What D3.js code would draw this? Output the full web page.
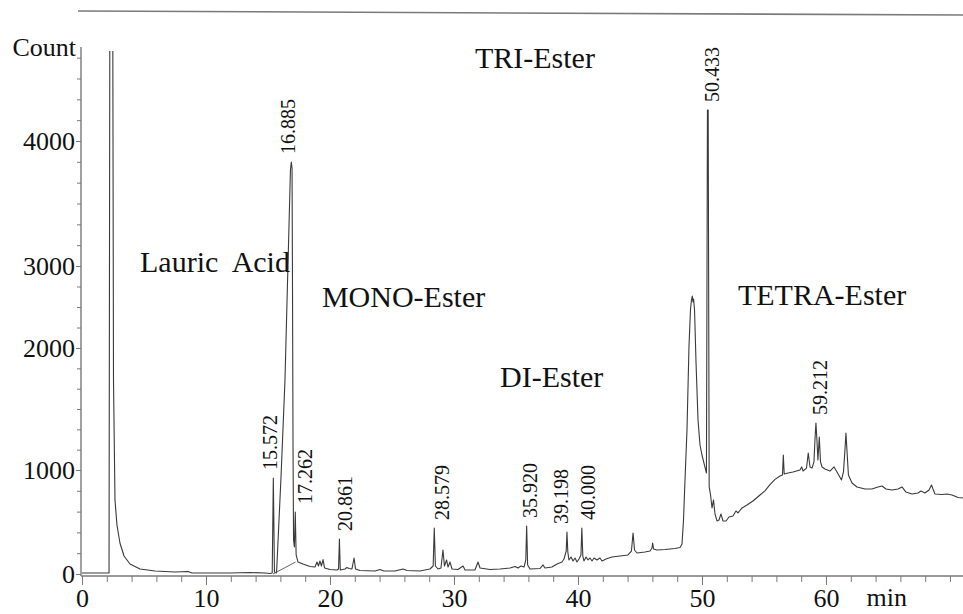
<!DOCTYPE html>
<html><head><meta charset="utf-8">
<script src="https://cdn.jsdelivr.net/npm/d3@7"></script>
<style>
body{margin:0;background:#fff}
svg{display:block}
text{font-family:"Liberation Serif","Times New Roman",serif;fill:#111}
</style>
</head><body>
<svg id="chart" width="963" height="614"></svg>
<script>
// ---- data ----
const times = [0.00,1.45,2.18,2.26,2.46,2.54,2.66,2.82,3.06,3.39,3.87,4.68,5.89,7.50,8.55,8.87,11.94,13.55,14.76,
15.16,15.34,15.43,15.52,15.69,16.05,16.37,16.81,16.88,16.94,16.98,17.02,17.06,17.13,17.20,17.27,17.42,17.82,18.39,18.79,
18.95,19.07,19.19,19.31,19.44,19.56,20.00,20.56,20.69,20.76,20.83,21.21,21.37,21.53,21.77,21.94,22.06,22.42,23.63,24.03,
24.35,25.24,25.89,26.21,27.26,28.06,28.32,28.41,28.50,28.71,28.95,29.11,29.23,29.40,29.52,29.68,29.84,30.32,30.73,30.89,
31.69,31.94,32.10,32.90,33.71,34.52,34.92,35.16,35.40,35.65,35.79,35.86,35.94,36.13,36.94,37.18,37.34,37.90,38.31,38.71,
38.87,39.05,39.11,39.18,39.27,39.44,39.60,39.76,39.92,40.08,40.24,40.31,40.39,40.48,40.65,40.81,40.97,41.13,41.29,41.53,
41.77,41.94,42.26,42.74,43.39,44.03,44.31,44.44,44.56,44.76,45.40,45.81,45.97,46.02,46.10,46.37,47.02,47.82,48.23,48.39,
48.51,48.63,48.79,48.95,49.07,49.15,49.22,49.27,49.32,49.40,49.52,49.68,49.84,50.00,50.16,50.36,50.44,50.50,50.58,50.69,
50.81,50.93,51.05,51.21,51.37,51.53,51.69,51.94,52.18,52.50,52.74,52.90,53.23,53.63,54.11,54.68,55.08,55.48,55.89,56.29,
56.49,56.56,56.63,56.94,57.34,57.90,58.04,58.15,58.43,58.57,58.71,58.87,59.03,59.11,59.19,59.27,59.35,59.46,59.56,59.68,
59.92,60.32,60.65,60.89,61.25,61.41,61.53,61.61,61.69,61.81,62.10,62.50,63.15,63.71,64.19,64.52,64.84,65.32,65.81,66.13,
66.45,66.94,67.42,67.66,67.98,68.31,68.51,68.63,68.79,69.35,69.76,70.16,70.65,71.05];
const counts = [10,10,10,6000,6000,1738,712,471,298,173,96,48,29,19,24,10,10,14,10,
5,10,923,19,10,933,1738,3768,3832,3784,2585,1164,327,260,596,183,115,96,72,67,
115,77,125,77,139,58,43,38,48,337,38,48,62,53,48,154,48,34,29,43,
29,29,48,34,29,48,77,442,77,48,58,231,77,135,67,115,48,43,77,38,
38,115,58,43,48,58,72,58,77,67,135,462,87,48,53,87,58,67,96,115,
144,221,404,212,135,163,125,154,115,144,183,442,173,125,163,135,154,125,154,135,
154,125,144,163,173,183,221,394,231,202,212,221,250,298,240,231,236,245,255,288,
519,904,1328,2012,2463,2585,2634,2561,2598,2463,1877,1410,1205,1123,1057,971,4248,4248,837,760,
635,712,577,510,519,577,510,510,548,558,606,587,635,663,702,760,800,860,910,942,
952,1123,962,971,981,1000,1025,990,1016,1139,1025,1016,1066,1246,1385,1246,1082,1270,1066,1025,
1008,990,1025,981,904,981,1164,1303,1164,952,875,837,817,817,837,846,817,808,817,837,
788,769,779,798,779,808,856,817,769,764,769,760,736,731];

// integrator baseline under the lauric acid peak
const baselineTimes = [15.40, 17.22];
const baselineCounts = [0, 115];

// labelled peaks: retention time text and apex height
const peakLabels = ["15.572","16.885","17.262","20.861","28.579","35.920","39.198","40.000","50.433","59.212"];
const peakApex   = [923, 3832, 596, 337, 442, 462, 404, 442, 4248, 1385];

// region names
const regionNames  = ["TRI-Ester","Lauric\u00a0 Acid","MONO-Ester","DI-Ester","TETRA-Ester"];
const regionTimes  = [31.69, 4.68, 19.35, 33.71, 52.90];
const regionCounts = [4584, 2927, 2500, 1680, 2524];

const xTicks = [0,10,20,30,40,50,60];
const yTicks = [0,1000,2000,3000,4000];
const yTickLabels = ["0","1000","2000","3000","4000"];
// minor tick subdivisions per 1000-count band (as drawn on the original axis)
const ySubdiv = [5,6,4,6];

// ---- layout config ----
const peakLabelNudge = [-5, -3, 8.5, 4.3, 5.6, 2.6, -7, 10, 4.6, 3.8]; // px, horizontal label shift

// ---- scales ----
const svg = d3.select("#chart");
const x = d3.scaleLinear().domain([0, 71.05]).range([82, 963]);
const y = d3.scaleLinear().domain(yTicks).range([574, 470, 348, 266, 141]);
const yTop = 4720, yAxisTop = 4752;

svg.append("defs").append("clipPath").attr("id","plot")
  .append("rect").attr("x", x(0)).attr("y", y(yTop))
  .attr("width", x(71.05) - x(0)).attr("height", y(0) + 20 - y(yTop));

const axisCol = "#7a7a7a";
const serif = '"Liberation Serif","Times New Roman",serif';

// top frame line
svg.append("line").attr("x1", 78).attr("y1", 11).attr("x2", 963).attr("y2", 15)
  .attr("stroke", axisCol).attr("stroke-width", 1.6);

// ---- y axis ----
const yMinor = [];
ySubdiv.forEach((n, i) => { for (let k = 1; k < n; k++) yMinor.push(yTicks[i] + k * 1000 / n); });
for (let k = 1; k <= 4; k++) yMinor.push(4000 + k * 1000 / 6);

svg.append("g").attr("transform", `translate(${x(0) - 1},0)`)
  .call(d3.axisLeft(y).tickValues(yMinor).tickSize(4).tickFormat(""))
  .call(g => g.select(".domain").remove())
  .call(g => g.selectAll("line").attr("stroke", axisCol));

svg.append("g").attr("transform", `translate(${x(0) - 1},0)`)
  .call(d3.axisLeft(y).tickValues(yTicks).tickSize(5).tickPadding(1).tickFormat((d, i) => yTickLabels[i]))
  .call(g => g.select(".domain").remove())
  .call(g => g.selectAll("line").attr("stroke", axisCol))
  .call(g => g.selectAll("text").attr("font-size", 26).attr("fill", "#111").attr("font-family", serif));

svg.append("line").attr("x1", x(0) - 1).attr("x2", x(0) - 1)
  .attr("y1", y(yAxisTop)).attr("y2", y(0) + 2)
  .attr("stroke", axisCol).attr("stroke-width", 1.4);

svg.append("text").attr("x", 76).attr("y", 56).attr("text-anchor", "end")
  .attr("font-size", 26).text("Count");

// ---- x axis ----
const xAxisY = y(0) + 2;
svg.append("g").attr("transform", `translate(0,${xAxisY})`)
  .call(d3.axisBottom(x).tickValues(d3.range(0, 72, 2)).tickSize(6).tickFormat(""))
  .call(g => g.select(".domain").remove())
  .call(g => g.selectAll("line").attr("stroke", axisCol));

svg.append("g").attr("transform", `translate(0,${xAxisY})`)
  .call(d3.axisBottom(x).tickValues(xTicks).tickSize(9).tickPadding(4).tickFormat(d3.format("d")))
  .call(g => g.select(".domain").remove())
  .call(g => g.selectAll("line").attr("stroke", axisCol))
  .call(g => g.selectAll("text").attr("font-size", 26).attr("fill", "#111").attr("font-family", serif));

svg.append("line").attr("x1", x(0) - 1).attr("x2", 963)
  .attr("y1", xAxisY).attr("y2", xAxisY)
  .attr("stroke", axisCol).attr("stroke-width", 1.6);

svg.append("text").attr("x", x(64.9)).attr("y", 606).attr("text-anchor", "middle")
  .attr("font-size", 26).text("min");

// ---- trace ----
const pts = times.map((t, i) => [t, counts[i]]);
const line = d3.line().x(d => x(d[0])).y(d => y(d[1]));
const plot = svg.append("g").attr("clip-path", "url(#plot)");
plot.append("path").datum(pts).attr("d", line)
  .attr("fill", "none").attr("stroke", "#3a3a3a").attr("stroke-width", 1.1)
  .attr("stroke-linejoin", "round");

plot.append("path").datum(baselineTimes.map((t, i) => [t, baselineCounts[i]])).attr("d", line)
  .attr("fill", "none").attr("stroke", "#555").attr("stroke-width", 0.9);

// ---- peak labels ----
svg.append("g").selectAll("text").data(peakLabels).join("text")
  .attr("transform", (d, i) => `translate(${x(+d) + peakLabelNudge[i]},${y(peakApex[i]) - 8}) rotate(-90)`)
  .attr("dy", "0.35em").attr("font-size", 20).attr("text-anchor", "start")
  .text(d => d);

// ---- region labels ----
svg.append("g").selectAll("text").data(regionNames).join("text")
  .attr("x", (d, i) => x(regionTimes[i])).attr("y", (d, i) => y(regionCounts[i]))
  .attr("font-size", 30).attr("text-anchor", "start")
  .text(d => d);
</script>
</body></html>
